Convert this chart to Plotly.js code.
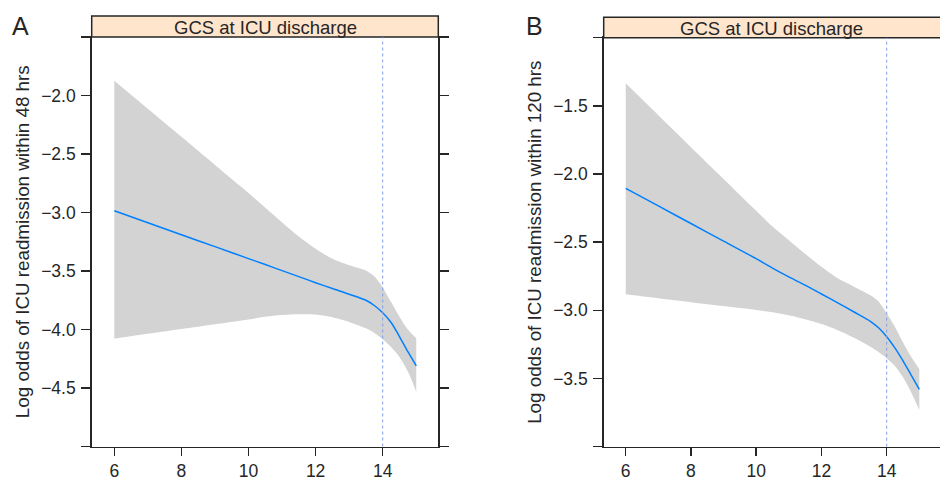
<!DOCTYPE html>
<html>
<head>
<meta charset="utf-8">
<script src="https://cdn.plot.ly/plotly-3.0.1.min.js"></script>
<style>html,body{margin:0;padding:0;background:#fff;}#chart{width:940px;height:480px;}</style>
</head>
<body>
<div id="chart"></div>
<script>
// GCS at ICU discharge (x grid)
const gcs = [6, 7, 8, 9, 10, 10.5, 11, 11.5, 12, 12.5, 13, 13.5, 13.75, 14, 14.25, 14.5, 14.75, 15];

// Panel A: readmission within 48 hrs
const fitA   = [-2.985, -3.087, -3.19, -3.292, -3.394, -3.445, -3.497, -3.548, -3.60, -3.65, -3.698, -3.75, -3.795, -3.857, -3.94, -4.06, -4.19, -4.31];
const upperA = [-1.873, -2.113, -2.353, -2.593, -2.833, -2.96, -3.085, -3.205, -3.31, -3.395, -3.45, -3.495, -3.545, -3.64, -3.765, -3.89, -4.0, -4.075];
const lowerA = [-4.078, -4.037, -3.996, -3.955, -3.914, -3.89, -3.876, -3.87, -3.872, -3.895, -3.935, -3.99, -4.03, -4.083, -4.15, -4.235, -4.36, -4.532];

// Panel B: readmission within 120 hrs
const fitB   = [-2.105, -2.234, -2.363, -2.492, -2.621, -2.69, -2.755, -2.815, -2.88, -2.945, -3.012, -3.08, -3.128, -3.193, -3.275, -3.37, -3.475, -3.58];
const upperB = [-1.335, -1.569, -1.803, -2.036, -2.27, -2.385, -2.485, -2.585, -2.68, -2.765, -2.826, -2.89, -2.935, -3.022, -3.12, -3.235, -3.34, -3.43];
const lowerB = [-2.882, -2.911, -2.94, -2.968, -2.997, -3.014, -3.036, -3.065, -3.1, -3.145, -3.2, -3.266, -3.305, -3.352, -3.408, -3.49, -3.6, -3.731];

const xTicks = [6, 8, 10, 12, 14];
const yTicksA = [-5.0, -4.5, -4.0, -3.5, -3.0, -2.5, -2.0, -1.5];
const yTextA  = ['', '\u22124.5', '\u22124.0', '\u22123.5', '\u22123.0', '\u22122.5', '\u22122.0', ''];
const yTicksB = [-4.0, -3.5, -3.0, -2.5, -2.0, -1.5, -1.0];
const yTextB  = ['', '\u22123.5', '\u22123.0', '\u22122.5', '\u22122.0', '\u22121.5', ''];
const cutoff = 14;
const stripLabel = 'GCS at ICU discharge';
const yTitleA = 'Log odds of ICU readmission within 48 hrs';
const yTitleB = 'Log odds of ICU readmission within 120 hrs';

const W = 940, H = 480;
const FONT = 'Liberation Sans, Arial, Helvetica, sans-serif';
const INK = '#262626';
const SMOOTH = 0.8;

function bandUpper(x, up, xa, ya) {
  return {x: x, y: up, xaxis: xa, yaxis: ya, type: 'scatter', mode: 'lines',
    line: {width: 0, color: 'rgba(0,0,0,0)', shape: 'spline', smoothing: SMOOTH},
    hoverinfo: 'skip', showlegend: false};
}
function bandLower(x, lo, xa, ya) {
  return {x: x, y: lo, xaxis: xa, yaxis: ya, type: 'scatter', mode: 'lines',
    fill: 'tonexty', fillcolor: '#d3d3d3',
    line: {width: 0, color: 'rgba(0,0,0,0)', shape: 'spline', smoothing: SMOOTH},
    hoverinfo: 'skip', showlegend: false};
}
function fit(x, y, xa, ya) {
  return {x: x, y: y, xaxis: xa, yaxis: ya, type: 'scatter', mode: 'lines',
    line: {color: '#0080ff', width: 1.5, shape: 'spline', smoothing: SMOOTH}, showlegend: false};
}

const data = [
  bandUpper(gcs, upperA, 'x', 'y'),
  bandLower(gcs, lowerA, 'x', 'y'),
  fit(gcs, fitA, 'x', 'y'),
  bandUpper(gcs, upperB, 'x2', 'y2'),
  bandLower(gcs, lowerB, 'x2', 'y2'),
  fit(gcs, fitB, 'x2', 'y2')
];

function xax(domain, range, anchor) {
  return {
    domain: domain, range: range, anchor: anchor,
    tickvals: xTicks, ticktext: xTicks.map(String),
    ticks: 'outside', ticklen: 8, tickwidth: 1.5, tickcolor: INK,
    showline: true, linecolor: INK, linewidth: 1.5, mirror: true,
    showgrid: false, zeroline: false,
    tickfont: {family: FONT, size: 17.5, color: INK}
  };
}
function yax(domain, range, vals, text, title, anchor) {
  return {
    domain: domain, range: range, anchor: anchor,
    tickvals: vals, ticktext: text,
    ticks: 'outside', ticklen: 9, tickwidth: 1.5, tickcolor: INK,
    showline: true, linecolor: INK, linewidth: 1.5, mirror: 'ticks',
    showgrid: false, zeroline: false, ticklabelstandoff: 2,
    tickfont: {family: FONT, size: 17.5, color: INK},
    title: {text: title, font: {family: FONT, size: 18.8, color: INK}, standoff: 6}
  };
}

const layout = {
  width: W, height: H,
  margin: {l: 0, r: 0, t: 0, b: 0},
  paper_bgcolor: '#ffffff', plot_bgcolor: '#ffffff',
  showlegend: false,
  xaxis: xax([91.7 / W, 438.3 / W], [5.326, 15.657], 'y'),
  yaxis: yax([1 - 446.5 / H, 1 - 37 / H], [-5, -1.5], yTicksA, yTextA, yTitleA, 'x'),
  xaxis2: xax([603.7 / W, 1], [5.325, 15.634], 'y2'),
  yaxis2: yax([1 - 446.7 / H, 1 - 37.7 / H], [-4, -1], yTicksB, yTextB, yTitleB, 'x2'),
  shapes: [
    {type: 'rect', xref: 'x domain', yref: 'paper', x0: 0, x1: 1, y0: 1 - 37 / H, y1: 1 - 16 / H,
     fillcolor: '#ffe5cc', line: {color: INK, width: 1.5}, layer: 'above'},
    {type: 'rect', xref: 'x2 domain', yref: 'paper', x0: 0, x1: 1.01, y0: 1 - 37.7 / H, y1: 1 - 17.3 / H,
     fillcolor: '#ffe5cc', line: {color: INK, width: 1.5}, layer: 'above'},
    {type: 'line', xref: 'x', yref: 'y domain', x0: cutoff, x1: cutoff, y0: 0, y1: 1,
     line: {color: '#7f9fe6', width: 1, dash: 'dot'}},
    {type: 'line', xref: 'x2', yref: 'y2 domain', x0: cutoff, x1: cutoff, y0: 0, y1: 1,
     line: {color: '#7f9fe6', width: 1, dash: 'dot'}}
  ],
  annotations: [
    {xref: 'x domain', yref: 'paper', x: 0.5, y: 1 - 27 / H, text: stripLabel, showarrow: false,
     xanchor: 'center', yanchor: 'middle', font: {family: FONT, size: 18.5, color: INK}},
    {xref: 'x2 domain', yref: 'paper', x: 0.5, y: 1 - 28 / H, text: stripLabel, showarrow: false,
     xanchor: 'center', yanchor: 'middle', font: {family: FONT, size: 18.5, color: INK}},
    {xref: 'paper', yref: 'paper', x: 10 / W, y: 1 - 26 / H, text: 'A', showarrow: false,
     xanchor: 'left', yanchor: 'middle', font: {family: FONT, size: 25, color: INK}},
    {xref: 'paper', yref: 'paper', x: 524 / W, y: 1 - 26 / H, text: 'B', showarrow: false,
     xanchor: 'left', yanchor: 'middle', font: {family: FONT, size: 25, color: INK}}
  ],
  font: {family: FONT, color: INK}
};

Plotly.newPlot('chart', data, layout, {displayModeBar: false, staticPlot: true});
</script>
</body>
</html>
